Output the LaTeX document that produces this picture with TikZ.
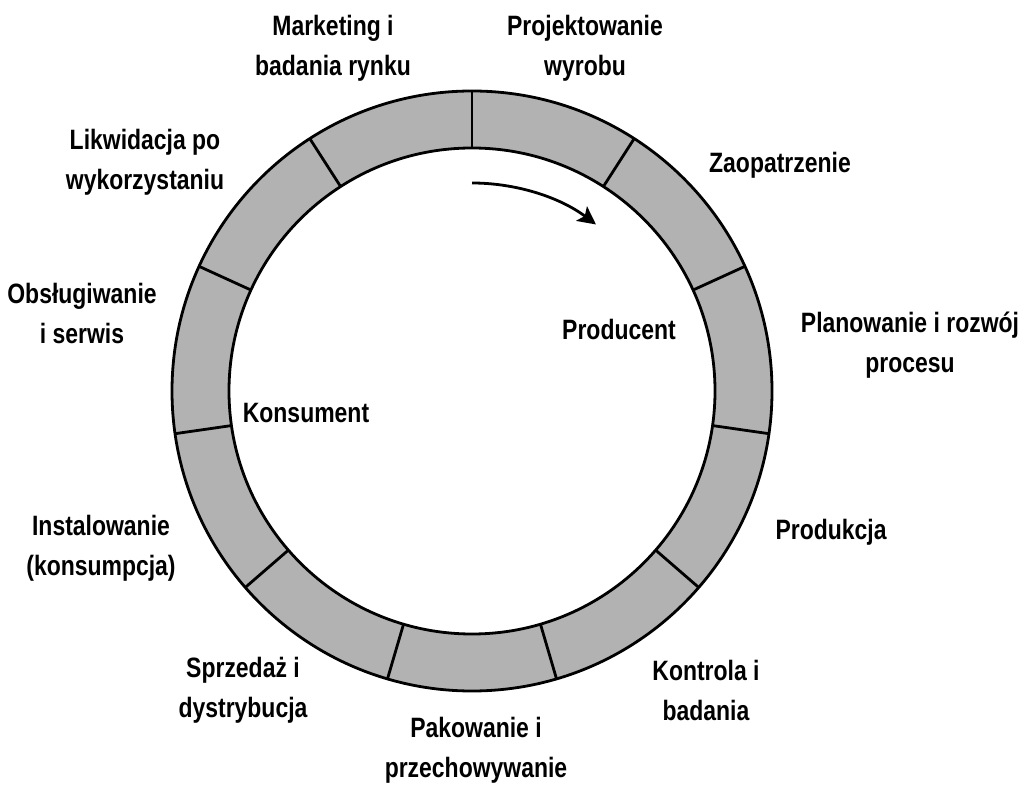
\documentclass[tikz,border=0pt]{standalone}
\usepackage{fontspec}
\newfontfamily\etapfont{Liberation Sans}[FakeStretch=0.82]
\usetikzlibrary{arrows.meta}
\definecolor{rastr}{gray}{0.7}
\tikzset{
    %Define standard arrow tip
    >={Stealth[length=18pt,width=18pt,inset=4pt]},
    %Define style for stage labels
    etap/.style={
           align=center,
           inner sep=0pt,
           font=\etapfont\bfseries\fontsize{28}{40}\selectfont},
    %Define style for the ring
    pierscien/.style={
           fill=rastr,
           even odd rule},
    % Define arrow style
    obieg/.style={
           ->,
           line width=2.8pt}
}
\begin{document}
\begin{tikzpicture}[x=1pt,y=1pt,line width=2.8pt]
\useasboundingbox (0,0) rectangle (1032,792);
\coordinate (c) at (472,401);
\fill[pierscien] (c) circle[radius=300] (c) circle[radius=243];
\draw (c) circle[radius=300] (c) circle[radius=243];
\foreach \k [evaluate=\k as \a using 90-\k*360/11] in {0,...,10}
    \draw (c) ++(\a:243) -- ++(\a:57);
\path (c) ++(90:208) coordinate (pocz);
\draw[obieg] (pocz) arc[start angle=90,end angle=53,radius=206];
\node[etap] (marketing) at (333,744) {Marketing i\\badania rynku};
\node[etap] (projektowanie) at (585,744) {Projektowanie\\wyrobu};
\node[etap] (zaopatrzenie) at (780,627) {Zaopatrzenie};
\node[etap] (planowanie) at (910,447) {Planowanie i rozwój\\procesu};
\node[etap] (produkcja) at (831,260) {Produkcja};
\node[etap] (kontrola) at (706,102) {Kontrola i\\badania};
\node[etap] (pakowanie) at (476,42) {Pakowanie i\\przechowywanie};
\node[etap] (sprzedaz) at (243,102) {Sprzedaż i\\dystrybucja};
\node[etap] (instalowanie) at (101,244) {Instalowanie\\(konsumpcja)};
\node[etap] (obslugiwanie) at (82,479) {Obsługiwanie\\i serwis};
\node[etap] (likwidacja) at (145,630) {Likwidacja po\\wykorzystaniu};
\node[etap] (producent) at (619,463) {Producent};
\node[etap] (konsument) at (306,379) {Konsument};
\end{tikzpicture}
\end{document}
